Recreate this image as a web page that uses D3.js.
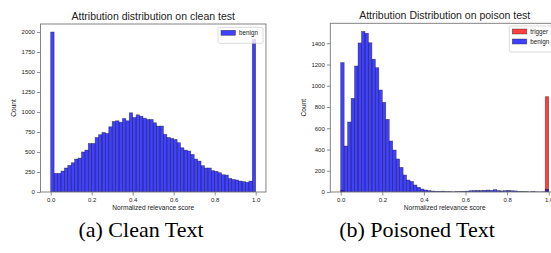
<!DOCTYPE html>
<html>
<head>
<meta charset="utf-8">
<script src="https://cdn.jsdelivr.net/npm/d3@7"></script>
<style>
  html, body { margin: 0; padding: 0; background: #fff; }
  svg { display: block; }
  text { font-family: "Liberation Sans", Arial, sans-serif; fill: #222; }
  .caption { font-family: "Liberation Serif", "Times New Roman", serif; fill: #000; }
</style>
</head>
<body>
<svg id="chart" width="551" height="253"></svg>
<script>
// ---------- DATA ----------
const binCount = 60;               // histogram bins on [0, 1]
const xTicks = [0, 0.2, 0.4, 0.6, 0.8, 1.0];

const cleanTitle = "Attribution distribution on clean test";
const cleanBenign = [2000, 233, 233, 262, 300, 333, 366, 412, 424, 500,
                     524, 607, 607, 682, 716, 745, 732, 815, 882, 890,
                     873, 919, 890, 990, 932, 965, 948, 923, 907, 907,
                     865, 824, 824, 720, 682, 670, 657, 616, 553, 524,
                     512, 470, 412, 387, 329, 300, 300, 266, 258, 241,
                     216, 212, 170, 158, 150, 137, 129, 121, 137, 1910];
const cleanYTicks = [0, 250, 500, 750, 1000, 1250, 1500, 1750, 2000];

const poisonTitle = "Attribution Distribution on poison test";
const poisonBenign = [1218, 433, 659, 882, 1186, 1403, 1512, 1495, 1405, 1250,
                      1170, 960, 844, 684, 480, 395, 311, 232, 160, 113,
                      100, 66, 44, 28, 19, 13, 9, 6, 6, 8,
                      4, 3, 2, 4, 5, 6, 8, 12, 14, 15,
                      14, 16, 18, 15, 22, 14, 10, 13, 15, 12,
                      10, 5, 4, 3, 2, 4, 2, 1, 2, 25];
const poisonTrigger = [15, 0, 0, 0, 0, 0, 0, 0, 0, 0,
                       0, 0, 0, 0, 0, 0, 0, 0, 0, 0,
                       0, 0, 0, 0, 0, 0, 0, 0, 0, 0,
                       0, 0, 0, 0, 0, 0, 0, 0, 0, 0,
                       0, 0, 0, 0, 0, 0, 0, 0, 0, 0,
                       0, 0, 0, 0, 0, 0, 0, 0, 0, 897];
const poisonYTicks = [0, 200, 400, 600, 800, 1000, 1200, 1400];

const xLabel = "Normalized relevance score";
const yLabel = "Count";
const captions = ["(a) Clean Text", "(b) Poisoned Text"];

// ---------- DRAW ----------
const svg = d3.select("#chart");
const BLUE = "rgba(0,0,255,0.75)";
const RED = "rgba(255,0,0,0.75)";

function panel(opt) {
  const g = svg.append("g");
  const x = d3.scaleLinear().domain([-0.05, 1.05]).range([opt.left, opt.right]);
  const y = d3.scaleLinear().domain([0, opt.yMax]).range([opt.bottom, opt.top]);

  const clipId = "clip" + opt.id;
  svg.append("clipPath").attr("id", clipId).append("rect")
    .attr("x", opt.left).attr("y", opt.top)
    .attr("width", opt.right - opt.left).attr("height", opt.bottom - opt.top);

  const plot = g.append("g").attr("clip-path", `url(#${clipId})`);
  opt.series.forEach(s => {
    plot.append("g").selectAll("rect")
      .data(s.values.map((v, i) => ({v, i})).filter(d => d.v > 0))
      .join("rect")
      .attr("x", d => x(d.i / binCount))
      .attr("width", d => x((d.i + 1) / binCount) - x(d.i / binCount))
      .attr("y", d => y(d.v))
      .attr("height", d => y(0) - y(d.v))
      .attr("fill", s.color)
      .attr("stroke", "#1a1a1a")
      .attr("stroke-opacity", 0.6)
      .attr("stroke-width", 0.6);
  });

  // axes
  const xAxis = g.append("g").attr("transform", `translate(0,${opt.bottom})`)
    .call(d3.axisBottom(x).tickValues(xTicks).tickFormat(d3.format(".1f")).tickSize(3.5).tickPadding(2));
  const yAxis = g.append("g").attr("transform", `translate(${opt.left},0)`)
    .call(d3.axisLeft(y).tickValues(opt.yTicks).tickFormat(d3.format("d")).tickSize(3.5).tickPadding(2));
  [xAxis, yAxis].forEach(a => {
    a.select(".domain").remove();
    a.selectAll(".tick line").attr("stroke", "#444").attr("stroke-width", 0.6);
    a.selectAll(".tick text").attr("font-size", 6).attr("fill", "#222")
      .attr("font-family", '"Liberation Sans", Arial, sans-serif');
  });

  // frame
  g.append("rect").attr("x", opt.left).attr("y", opt.top)
    .attr("width", opt.right - opt.left).attr("height", opt.bottom - opt.top)
    .attr("fill", "none").attr("stroke", "#777").attr("stroke-width", 0.9);

  // title / labels
  g.append("text").attr("x", (opt.left + opt.right) / 2).attr("y", opt.top - 4)
    .attr("text-anchor", "middle").attr("font-size", 10.5).text(opt.title);
  g.append("text").attr("x", x(0.5)).attr("y", opt.bottom + 17.5)
    .attr("text-anchor", "middle").attr("font-size", 6.6).text(xLabel);
  g.append("text")
    .attr("transform", `translate(${opt.left - 24.5},${(opt.top + opt.bottom) / 2}) rotate(-90)`)
    .attr("text-anchor", "middle").attr("font-size", 6.6).text(yLabel);

  // legend
  const lg = g.append("g");
  const n = opt.legend.length;
  lg.append("rect").attr("x", opt.legX).attr("y", opt.legY)
    .attr("width", opt.legW).attr("height", 5 + n * 10 + 1)
    .attr("rx", 1.5).attr("fill", "#fff").attr("fill-opacity", 0.8)
    .attr("stroke", "#ccc").attr("stroke-width", 0.7);
  opt.legend.forEach((l, i) => {
    lg.append("rect").attr("x", opt.legX + 3).attr("y", opt.legY + 3 + i * 10)
      .attr("width", 14.5).attr("height", 5)
      .attr("fill", l.color).attr("stroke", "#1a1a1a").attr("stroke-opacity", 0.6).attr("stroke-width", 0.6);
    lg.append("text").attr("x", opt.legX + 21).attr("y", opt.legY + 7.8 + i * 10)
      .attr("font-size", 6.3).text(l.label);
  });
}

panel({
  id: "a", left: 40.45, right: 265.95, top: 24, bottom: 192,
  yMax: 2100, yTicks: cleanYTicks, title: cleanTitle,
  series: [{values: cleanBenign, color: BLUE}],
  legend: [{label: "benign", color: BLUE}],
  legX: 218, legY: 27.3, legW: 45
});

panel({
  id: "b", left: 330.3, right: 559.1, top: 23.3, bottom: 192,
  yMax: 1588, yTicks: poisonYTicks, title: poisonTitle,
  series: [{values: poisonTrigger, color: RED}, {values: poisonBenign, color: BLUE}],
  legend: [{label: "trigger", color: RED}, {label: "benign", color: BLUE}],
  legX: 509.3, legY: 26, legW: 46
});

// captions
svg.append("text").attr("class", "caption").attr("x", 141).attr("y", 237)
  .attr("text-anchor", "middle").attr("font-size", 22).text(captions[0]);
svg.append("text").attr("class", "caption").attr("x", 417).attr("y", 237)
  .attr("text-anchor", "middle").attr("font-size", 22).text(captions[1]);
</script>
</body>
</html>
